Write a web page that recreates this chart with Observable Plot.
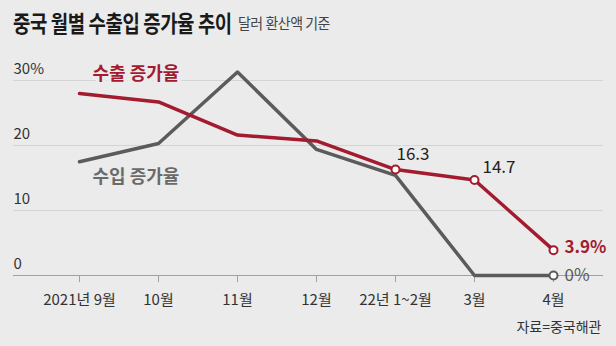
<!DOCTYPE html>
<html>
<head>
<meta charset="utf-8">
<script src="https://cdn.jsdelivr.net/npm/d3@7"></script>
<script src="https://cdn.jsdelivr.net/npm/@observablehq/plot@0.6"></script>
<style>
  html, body { margin: 0; padding: 0; background: #ebebeb; }
  body { width: 616px; height: 346px; overflow: hidden; font-family: "Noto Sans CJK KR", sans-serif; }
  #head { position: relative; height: 50px; white-space: nowrap; }
  #title { position: absolute; left: 13px; top: 5px; font-size: 23px; font-weight: 700; color: #1a1a1a; letter-spacing: -0.5px; transform: scaleX(0.82); transform-origin: left center; }
  #sub { position: absolute; left: 238px; top: 12px; font-size: 15px; color: #444; letter-spacing: -0.5px; transform: scaleX(0.93); transform-origin: left center; }
  #chart svg { display: block; }
</style>
</head>
<body>
<div id="head"><span id="title">중국 월별 수출입 증가율 추이</span><span id="sub">달러 환산액 기준</span></div>
<div id="chart"></div>
<script>
const months = ["2021년 9월", "10월", "11월", "12월", "22년 1~2월", "3월", "4월"];
const exportRate = [28.0, 26.7, 21.6, 20.7, 16.3, 14.7, 3.9];
const importRate = [17.5, 20.3, 31.3, 19.4, 15.4, 0, 0];
const yTicks = [0, 10, 20, 30];
const yTickLabels = ["0", "10", "20", "30%"];
const seriesNames = ["수출 증가율", "수입 증가율"];
const source = "자료=중국해관";

const RED = "#a31b2f";
const GRAY = "#5b5b5b";
const BG = "#ebebeb";
const NUMFONT = "'Liberation Sans Narrow', 'Noto Sans CJK KR', sans-serif";

const exp = months.map((m, i) => ({month: m, v: exportRate[i]}));
const imp = months.map((m, i) => ({month: m, v: importRate[i]}));
const tickRows = yTicks.map((t, i) => ({t, label: yTickLabels[i]}));

const chart = Plot.plot({
  width: 616,
  height: 296,
  marginLeft: 13,
  marginRight: 13,
  marginTop: 30,
  marginBottom: 71,
  style: {background: "transparent", fontFamily: NUMFONT},
  x: {type: "point", domain: months, range: [79, 553], padding: 0, axis: null},
  y: {domain: [0, 30], axis: null},
  marks: [
    Plot.ruleY(yTicks.filter(t => t > 0), {stroke: "#d4d4d4", strokeWidth: 1}),
    Plot.ruleY([0], {stroke: "#a0a0a0", strokeWidth: 1.2}),
    Plot.axisX({tickSize: 7, tickPadding: 12, stroke: "#a0a0a0", fontSize: 15, fill: "#333", tickFormat: d => d, label: null, fontFamily: NUMFONT}),
    Plot.text(tickRows, {y: "t", text: "label", frameAnchor: "left", textAnchor: "start", dy: -11, fontSize: 15, fill: "#333", fontFamily: NUMFONT}),
    Plot.line(imp, {x: "month", y: "v", stroke: GRAY, strokeWidth: 3.5, strokeLinejoin: "round"}),
    Plot.line(exp, {x: "month", y: "v", stroke: RED, strokeWidth: 3.5, strokeLinejoin: "round"}),
    Plot.dot(exp.slice(4), {x: "month", y: "v", r: 4, fill: "white", stroke: RED, strokeWidth: 2}),
    Plot.dot(imp.slice(6), {x: "month", y: "v", r: 4, fill: "white", stroke: GRAY, strokeWidth: 2}),
    Plot.text([exp[4]], {x: "month", y: "v", text: d => d.v.toFixed(1), textAnchor: "start", dx: 1, dy: -15, fontSize: 17, fill: "#222", stroke: BG, strokeWidth: 5, paintOrder: "stroke"}),
    Plot.text([exp[5]], {x: "month", y: "v", text: d => d.v.toFixed(1), textAnchor: "start", dx: 8, dy: -12, fontSize: 17, fill: "#222", stroke: BG, strokeWidth: 5, paintOrder: "stroke"}),
    Plot.text([exp[6]], {x: "month", y: "v", text: d => d.v.toFixed(1) + "%", textAnchor: "start", dx: 11, dy: -3, fontSize: 17, fontWeight: "bold", fill: RED}),
    Plot.text([imp[6]], {x: "month", y: "v", text: d => d.v + "%", textAnchor: "start", dx: 11, dy: 0, fontSize: 17, fill: GRAY}),
    Plot.text([{month: months[0], v: 30.9, name: seriesNames[0]}], {x: "month", y: "v", text: "name", textAnchor: "start", dx: 13, fontSize: 18, fontWeight: "bold", fill: RED, fontFamily: "'Noto Sans CJK KR', sans-serif", stroke: BG, strokeWidth: 8, paintOrder: "stroke"}),
    Plot.text([{month: months[0], v: 15.1, name: seriesNames[1]}], {x: "month", y: "v", text: "name", textAnchor: "start", dx: 13, fontSize: 18, fontWeight: "bold", fill: "#6a6a6a", fontFamily: "'Noto Sans CJK KR', sans-serif"}),
    Plot.text([source], {text: d => d, frameAnchor: "bottom-right", dy: 56, dx: -2, fontSize: 14, fill: "#333"})
  ]
});
document.getElementById("chart").appendChild(chart);
</script>
</body>
</html>
